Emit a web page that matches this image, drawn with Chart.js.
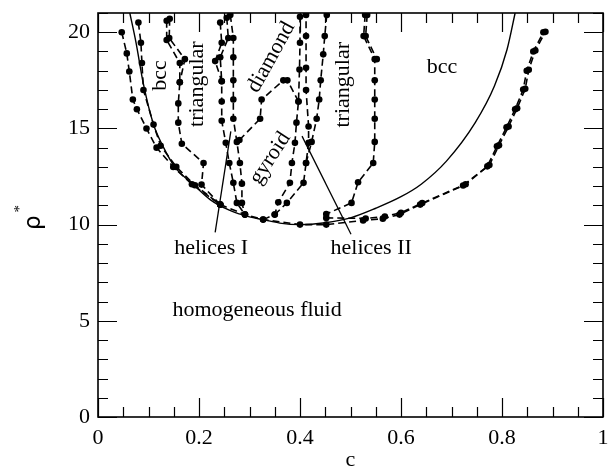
<!DOCTYPE html>
<html>
<head>
<meta charset="utf-8">
<script src="https://cdn.jsdelivr.net/npm/chart.js@4.4.1/dist/chart.umd.min.js"></script>
<style>
  html, body { margin: 0; padding: 0; background: #fff; }
</style>
</head>
<body>
<canvas id="phase" width="615" height="468"></canvas>
<script>
// phase diagram: rho* versus composition c
// each boundary is a list of [c, rho*] pairs
const spinodal = [[0.063,21],[0.075,19.5],[0.09,17.3],[0.11,15.2],[0.13,14.0],[0.152,13.0],[0.189,12.08],
  [0.222,11.3],[0.26,10.75],[0.3,10.4],[0.327,10.26],[0.36,10.08],[0.4,10.0],[0.45,10.1],[0.5,10.35],
  [0.55,10.85],[0.6,11.45],[0.64,12.1],[0.69,13.3],[0.747,15.3],[0.785,17.2],[0.81,19.1],[0.826,21]];

const bccLeftOuter = [[0.047,20.0],[0.057,18.9],[0.062,17.96],[0.069,16.5],[0.077,16.0],[0.096,15.0],
  [0.116,14.0],[0.149,13.0],[0.186,12.1],[0.242,11.04]];
const bccLeftInner = [[0.080,20.5],[0.085,19.45],[0.087,18.4],[0.090,17.0],[0.110,15.2],[0.124,14.1],
  [0.155,13.0],[0.192,12.05],[0.242,11.04]];
const triLeftA = [[0.136,20.6],[0.136,19.6],[0.162,18.4],[0.162,17.4],[0.159,16.3],[0.159,15.3],
  [0.166,14.2],[0.209,13.2],[0.205,12.08],[0.242,11.04]];
const triLeftB = [[0.142,20.7],[0.141,19.7],[0.172,18.6],[0.162,17.4]];
const helixIA = [[0.242,20.5],[0.245,19.45],[0.232,18.5],[0.245,17.45],[0.245,16.4],[0.245,15.4],
  [0.253,14.25],[0.26,13.2],[0.268,12.17],[0.275,11.13],[0.291,10.52]];
const helixIB = [[0.255,20.75],[0.258,19.7],[0.242,18.7],[0.245,17.45]];
const helixIC = [[0.262,20.9],[0.268,19.7],[0.268,18.7],[0.268,17.5],[0.268,16.5],[0.268,15.5],
  [0.275,14.3],[0.281,13.2],[0.285,12.13],[0.285,11.13],[0.291,10.52]];
const diamondEdge = [[0.280,14.4],[0.321,15.5],[0.324,16.5],[0.367,17.5],[0.375,17.5],[0.397,16.4]];
const helixIIA = [[0.327,10.26],[0.350,10.52],[0.357,11.16],[0.380,12.17],[0.384,13.2],[0.390,14.25],
  [0.393,15.3],[0.397,16.4],[0.399,18.06],[0.400,19.45],[0.400,20.8]];
const helixIIB = [[0.350,10.52],[0.374,11.13],[0.407,12.17],[0.412,13.2],[0.417,14.25],[0.417,15.1],
  [0.412,17.0],[0.412,18.15],[0.412,19.8],[0.412,20.9]];
const triRightA = [[0.453,20.9],[0.449,19.8],[0.446,18.85],[0.441,17.5],[0.438,16.5],[0.433,15.5],
  [0.423,14.3],[0.412,13.2]];
const triRightB = [[0.529,20.9],[0.526,19.8],[0.548,18.6],[0.548,17.5],[0.548,16.5],[0.548,15.5],
  [0.548,14.3],[0.545,13.2],[0.515,12.2],[0.502,11.13],[0.452,10.55]];
const triRightC = [[0.533,20.9],[0.530,19.8],[0.552,18.6]];
const bccRightA = [[0.242,11.04],[0.291,10.52],[0.327,10.26],[0.40,10.0],[0.452,10.0],[0.525,10.22],
  [0.564,10.31],[0.597,10.52],[0.638,11.04],[0.723,12.03],[0.771,13.03],[0.79,14.07],[0.809,15.06],
  [0.826,16.0],[0.842,17.02],[0.849,18.0],[0.862,19.0],[0.882,20.0]];
const bccRightB = [[0.452,10.35],[0.53,10.32],[0.568,10.42],[0.60,10.62],[0.642,11.12],[0.728,12.1],
  [0.775,13.1],[0.794,14.12],[0.813,15.1],[0.830,16.05],[0.846,17.06],[0.853,18.05],[0.866,19.05],
  [0.886,20.02]];
// pointer lines from the helices labels
const arrowHelixI = [[0.232,9.6],[0.263,14.85]];
const arrowHelixII = [[0.501,9.5],[0.404,14.6]];

const xLabels = [0, 0.2, 0.4, 0.6, 0.8, 1];
const yLabels = [0, 5, 10, 15, 20];

const phaseLabels = [
  { text: 'bcc', c: 0.123, r: 17.75, rot: -90 },
  { text: 'triangular', c: 0.196, r: 17.3, rot: -90 },
  { text: 'diamond', c: 0.343, r: 18.7, rot: -61 },
  { text: 'gyroid', c: 0.341, r: 13.45, rot: -57 },
  { text: 'triangular', c: 0.485, r: 17.27, rot: -90 },
  { text: 'bcc', c: 0.681, r: 18.16, rot: 0 },
  { text: 'helices I', c: 0.224, r: 8.75, rot: 0 },
  { text: 'helices II', c: 0.541, r: 8.75, rot: 0 },
  { text: 'homogeneous fluid', c: 0.315, r: 5.55, rot: 0 }
];

const serif = 'Liberation Serif';
const toPts = arr => arr.map(p => ({ x: p[0], y: p[1] }));

function dashed(arr) {
  return {
    data: toPts(arr), showLine: true, borderColor: '#000', backgroundColor: '#000',
    borderWidth: 1.6, borderDash: [7, 4], pointRadius: 3.3, pointHoverRadius: 3.3,
    pointBorderWidth: 0, tension: 0
  };
}
function solid(arr, width) {
  return {
    data: toPts(arr), showLine: true, borderColor: '#000', borderWidth: width,
    pointRadius: 0, tension: 0
  };
}

const spinodalSet = solid(spinodal, 1.4);
spinodalSet.cubicInterpolationMode = 'monotone';

// inward ticks on all four sides plus the frame
const frameTicks = {
  id: 'frameTicks',
  afterDraw(chart) {
    const ctx = chart.ctx;
    const a = chart.chartArea;
    const xs = chart.scales.x, ys = chart.scales.y;
    ctx.save();
    ctx.setLineDash([]);
    ctx.strokeStyle = '#000';
    ctx.lineWidth = 1.2;
    for (let i = 0; i <= 20; i++) {
      const len = i % 4 === 0 ? 19 : 10;
      const px = Math.round(xs.getPixelForValue(i * 0.05)) + 0.5;
      ctx.beginPath();
      ctx.moveTo(px, a.bottom); ctx.lineTo(px, a.bottom - len);
      ctx.moveTo(px, a.top); ctx.lineTo(px, a.top + len);
      ctx.stroke();
    }
    for (let i = 0; i <= 21; i++) {
      const len = i % 5 === 0 ? 19 : 10;
      const py = Math.round(ys.getPixelForValue(i)) + 0.5;
      ctx.beginPath();
      ctx.moveTo(a.left, py); ctx.lineTo(a.left + len, py);
      ctx.moveTo(a.right, py); ctx.lineTo(a.right - len, py);
      ctx.stroke();
    }
    ctx.lineWidth = 1.6;
    ctx.strokeRect(a.left, a.top, a.right - a.left, a.bottom - a.top);

    // y axis title: rho with a raised asterisk, turned like the axis
    ctx.fillStyle = '#000';
    ctx.textAlign = 'center';
    ctx.textBaseline = 'middle';
    ctx.save();
    ctx.translate(34, ys.getPixelForValue(10.1));
    ctx.rotate(-Math.PI / 2);
    ctx.font = '23px "DejaVu Sans"';
    ctx.fillText('ρ', 0, 0);
    ctx.font = '15px "Liberation Serif"';
    ctx.fillText('*', 14, -14);
    ctx.restore();
    ctx.restore();
  }
};

const regionText = {
  id: 'regionText',
  afterDatasetsDraw(chart) {
    const ctx = chart.ctx;
    const xs = chart.scales.x, ys = chart.scales.y;
    ctx.save();
    ctx.fillStyle = '#000';
    ctx.font = '22px "' + serif + '"';
    ctx.textAlign = 'center';
    ctx.textBaseline = 'middle';
    phaseLabels.forEach(l => {
      ctx.save();
      ctx.translate(xs.getPixelForValue(l.c), ys.getPixelForValue(l.r));
      ctx.rotate(l.rot * Math.PI / 180);
      ctx.fillText(l.text, 0, 0);
      ctx.restore();
    });
    ctx.restore();
  }
};

new Chart(document.getElementById('phase'), {
  type: 'scatter',
  data: {
    datasets: [
      spinodalSet,
      dashed(bccLeftOuter), dashed(bccLeftInner), dashed(triLeftA), dashed(triLeftB),
      dashed(helixIA), dashed(helixIB), dashed(helixIC), dashed(diamondEdge),
      dashed(helixIIA), dashed(helixIIB), dashed(triRightA), dashed(triRightB), dashed(triRightC),
      dashed(bccRightA), dashed(bccRightB),
      solid(arrowHelixI, 1.3), solid(arrowHelixII, 1.3)
    ]
  },
  options: {
    responsive: false,
    animation: false,
    layout: { padding: { top: 13, right: 12, left: 0, bottom: 0 } },
    plugins: { legend: { display: false }, tooltip: { enabled: false } },
    scales: {
      x: {
        type: 'linear', min: 0, max: 1,
        grid: { display: false, drawTicks: false },
        border: { display: false },
        afterBuildTicks: s => { s.ticks = xLabels.map(v => ({ value: v })); },
        afterFit: s => { s.height = 51; s.paddingLeft = 0; s.paddingRight = 0; },
        ticks: {
          padding: 8, color: '#000', maxRotation: 0, autoSkip: false,
          font: { family: serif, size: 22 },
          callback: v => String(v)
        },
        title: { display: true, text: 'c', color: '#000', padding: { top: 0, bottom: -5 },
          font: { family: serif, size: 22 } }
      },
      y: {
        type: 'linear', min: 0, max: 21,
        grid: { display: false, drawTicks: false },
        border: { display: false },
        afterBuildTicks: s => { s.ticks = yLabels.map(v => ({ value: v })); },
        afterFit: s => { s.width = 98; s.paddingTop = 0; s.paddingBottom = 0; },
        ticks: {
          padding: 8, color: '#000', autoSkip: false,
          font: { family: serif, size: 22 },
          callback: v => String(v)
        }
      }
    }
  },
  plugins: [frameTicks, regionText]
});
</script>
</body>
</html>
